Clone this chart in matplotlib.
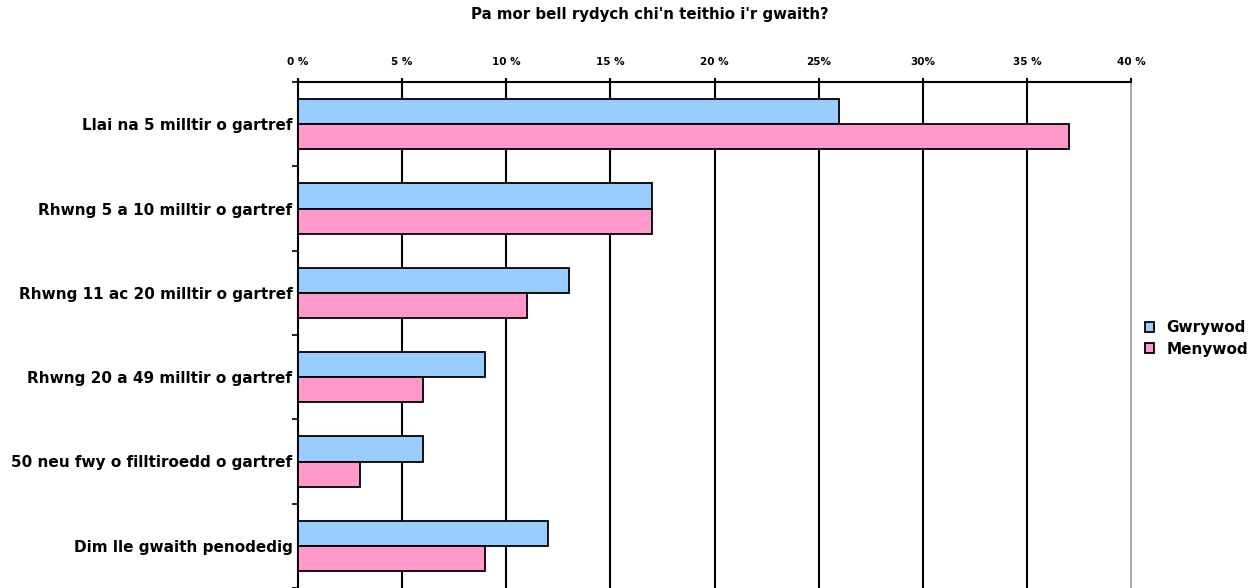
import matplotlib
matplotlib.use('Agg')
import matplotlib.pyplot as plt
import numpy as np

# data
categories = ['Llai na 5 milltir o gartref',
              'Rhwng 5 a 10 milltir o gartref',
              'Rhwng 11 ac 20 milltir o gartref',
              'Rhwng 20 a 49 milltir o gartref',
              '50 neu fwy o filltiroedd o gartref',
              'Dim lle gwaith penodedig']
gwrywod = [26, 17, 13, 9, 6, 12]
menywod = [37, 17, 11, 6, 3, 9]
xticks = [0, 5, 10, 15, 20, 25, 30, 35, 40]
xticklabels = ['0 %', '5 %', '10 %', '15 %', '20 %', '25%', '30%', '35 %', '40 %']

plt.rcParams['font.family'] = ['DejaVu Sans']

fig = plt.figure(figsize=(12.56, 5.88), dpi=100)
ax = fig.add_axes([298 / 1256, 0.0, (1131 - 298) / 1256, 1 - 82 / 588])

y = np.arange(len(categories))
h = 0.3
ax.barh(y - h / 2, gwrywod, height=h, color='#99ccff', edgecolor='black', linewidth=1.3, label='Gwrywod', zorder=3)
ax.barh(y + h / 2, menywod, height=h, color='#ff99cc', edgecolor='black', linewidth=1.3, label='Menywod', zorder=3)

ax.set_xlim(0, 40)
ax.set_ylim(len(categories) - 0.5, -0.5)

# gridlines
for v in xticks[1:-1]:
    ax.axvline(v, color='black', linewidth=1.5, zorder=1)

ax.xaxis.tick_top()
ax.set_xticks(xticks)
ax.set_xticklabels(xticklabels, fontsize=7.5, fontweight='bold')
ax.tick_params(axis='x', direction='out', length=3, width=1.5, pad=8)

ax.set_yticks(y)
ax.set_yticklabels(categories, fontsize=11, fontweight='bold')
ax.tick_params(axis='y', which='major', length=0, pad=4)
ax.set_yticks(np.arange(len(categories) + 1) - 0.5, minor=True)
ax.tick_params(axis='y', which='minor', direction='out', length=4, width=1.2)

ax.spines['top'].set_linewidth(1.5)
ax.spines['left'].set_linewidth(1.5)
ax.spines['right'].set_color('#999999')
ax.spines['right'].set_linewidth(1.2)
ax.spines['bottom'].set_visible(False)

fig.text(650 / 1256, 1 - 14 / 588, "Pa mor bell rydych chi'n teithio i'r gwaith?",
         ha='center', va='center', fontsize=10.8, fontweight='bold')

leg = ax.legend(loc='center left', bbox_to_anchor=(1.0, 0.493), frameon=False,
                prop={'weight': 'bold', 'size': 11},
                handlelength=0.6, handleheight=0.6, handletextpad=0.8, labelspacing=0.4)

fig.savefig('out.png', dpi=100)
